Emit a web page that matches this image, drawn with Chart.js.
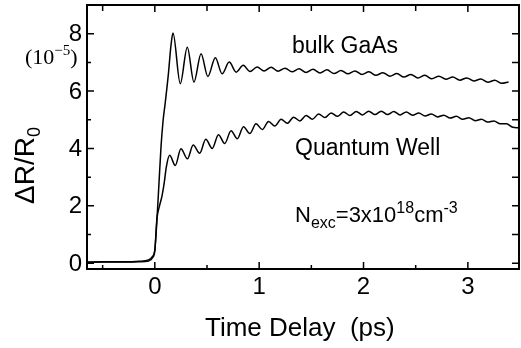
<!DOCTYPE html>
<html>
<head>
<meta charset="utf-8">
<script src="https://cdn.jsdelivr.net/npm/chart.js@4.4.1/dist/chart.umd.min.js"></script>
<style>
html,body{margin:0;padding:0;background:#fff;}
#c{display:block;}
</style>
</head>
<body>
<canvas id="c" width="521" height="348"></canvas>
<script>
// ---- data ----
const bulkT = [-0.65,-0.5,-0.3,-0.15,-0.06,-0.02,0.0,0.02,0.04,0.06,0.08,0.10,0.13,0.155,0.174,
  0.244,0.311,0.375,0.443,0.508,0.580,0.645,0.713,0.780,0.847,0.912,0.980,1.047,1.114,1.181,1.248,
  1.315,1.382,1.449,1.516,1.583,1.650,1.717,1.784,1.851,1.918,1.985,2.052,2.119,2.186,2.253,2.320,
  2.387,2.454,2.521,2.588,2.655,2.722,2.789,2.856,2.923,2.990,3.057,3.124,3.191,3.258,3.325,3.39];
const bulkV = [0.04,0.05,0.05,0.07,0.12,0.25,0.45,1.5,2.8,4.1,5.0,5.6,6.6,7.6,8.02,
  6.26,7.53,6.31,7.30,6.51,7.16,6.60,7.01,6.66,6.90,6.68,6.84,6.70,6.83,6.69,6.80,
  6.67,6.78,6.65,6.76,6.63,6.74,6.61,6.72,6.60,6.70,6.58,6.67,6.55,6.64,6.52,6.61,
  6.49,6.58,6.46,6.55,6.43,6.52,6.41,6.49,6.38,6.46,6.35,6.42,6.31,6.38,6.27,6.32];

const qwT = [-0.65,-0.5,-0.3,-0.15,-0.06,-0.02,0.0,0.02,0.045,0.069,0.09,0.11,0.142,
  0.196,0.25,0.312,0.368,0.43,0.488,0.55,0.61,0.67,0.73,0.79,0.85,0.91,0.97,1.03,1.09,1.15,1.21,
  1.27,1.33,1.39,1.45,1.51,1.57,1.63,1.69,1.75,1.81,1.87,1.93,1.99,2.05,2.11,2.17,2.23,2.29,2.35,
  2.41,2.47,2.53,2.59,2.65,2.71,2.77,2.83,2.89,2.95,3.01,3.07,3.13,3.19,3.25,3.31,3.37,3.43,3.49];
const qwV = [0.03,0.04,0.04,0.05,0.08,0.2,0.45,1.55,2.0,2.35,2.8,3.35,3.76,
  3.41,3.99,3.64,4.12,3.83,4.32,4.00,4.48,4.17,4.62,4.34,4.76,4.52,4.86,4.66,4.94,4.78,5.02,
  4.88,5.09,4.96,5.15,5.02,5.20,5.08,5.24,5.12,5.27,5.15,5.29,5.17,5.30,5.18,5.30,5.18,5.29,5.17,
  5.27,5.16,5.24,5.13,5.20,5.10,5.16,5.06,5.12,5.02,5.07,4.97,5.02,4.92,4.96,4.86,4.86,4.74,4.72];

const xMajorTicks = [0,1,2,3];
const xTickLabels = ['0','1','2','3'];
const xMinorTicks = [-0.5,0.5,1.5,2.5];
const yMajorTicks = [0,2,4,6,8];
const yTickLabels = ['0','2','4','6','8'];
const yMinorTicks = [1,3,5,7];

const SANS = '"Liberation Sans", Arial, Helvetica, sans-serif';
const SERIF = '"Liberation Serif", "Times New Roman", serif';

function drawRuns(ctx, x, y, runs){
  let cx = x;
  runs.forEach(r=>{
    ctx.font = r[1]+'px '+(r[3]||SANS);
    ctx.fillText(r[0], cx, y + r[2]);
    cx += ctx.measureText(r[0]).width;
  });
  return cx;
}

const deco = {
  id:'deco',
  afterDraw(chart){
    const {ctx, chartArea:a, scales:{x, y}} = chart;
    ctx.save();
    ctx.strokeStyle = '#000';
    ctx.fillStyle = '#000';
    ctx.lineWidth = 2;
    ctx.strokeRect(a.left, a.top, a.right - a.left, a.bottom - a.top);
    ctx.lineWidth = 1.5;
    ctx.beginPath();
    const xt = (v, lb, lt) => {
      const p = x.getPixelForValue(v);
      ctx.moveTo(p, a.bottom); ctx.lineTo(p, a.bottom - lb);
      ctx.moveTo(p, a.top); ctx.lineTo(p, a.top + lt);
    };
    xMajorTicks.forEach(v => xt(v, 7, 7));
    xMinorTicks.forEach(v => xt(v, 4, 6));
    const yt = (v, ll, lr) => {
      const p = y.getPixelForValue(v);
      ctx.moveTo(a.left, p); ctx.lineTo(a.left + ll, p);
      ctx.moveTo(a.right, p); ctx.lineTo(a.right - lr, p);
    };
    yMajorTicks.forEach(v => yt(v, 7, 7));
    yMinorTicks.forEach(v => yt(v, 4, 7));
    ctx.stroke();

    ctx.font = '24px ' + SANS;
    ctx.textAlign = 'center'; ctx.textBaseline = 'alphabetic';
    xMajorTicks.forEach((v, i) => ctx.fillText(xTickLabels[i], x.getPixelForValue(v), 294));
    ctx.textAlign = 'right'; ctx.textBaseline = 'middle';
    yMajorTicks.forEach((v, i) => ctx.fillText(yTickLabels[i], 82, y.getPixelForValue(v) + 1));

    ctx.textAlign = 'left'; ctx.textBaseline = 'alphabetic';
    ctx.font = '26px ' + SANS;
    ctx.fillText('Time Delay  (ps)', 205, 336);

    ctx.save();
    ctx.translate(34, 204);
    ctx.rotate(-Math.PI/2);
    drawRuns(ctx, 0, 0, [['\u0394R/R', 28, 0], ['0', 18, 6]]);
    ctx.restore();

    drawRuns(ctx, 25, 64, [['(10', 22, 0, SERIF], ['\u22125', 15, -9, SERIF], [')', 22, 0, SERIF]]);

    ctx.font = '23px ' + SANS;
    ctx.fillText('bulk GaAs', 292, 53);
    ctx.fillText('Quantum Well', 295, 155);
    drawRuns(ctx, 295, 222, [['N', 22, 0], ['exc', 16, 6], ['=3x10', 22, 0], ['18', 16, -9], ['cm', 22, 0], ['-3', 16, -9]]);
    ctx.restore();
  }
};

new Chart(document.getElementById('c'), {
  type: 'line',
  data: {
    datasets: [
      { label: 'bulk GaAs', data: bulkT.map((t, i) => ({x: t, y: bulkV[i]})),
        borderColor: '#000', backgroundColor: '#000', borderWidth: 1.5, pointRadius: 0, fill: false, cubicInterpolationMode: 'monotone' },
      { label: 'Quantum Well', data: qwT.map((t, i) => ({x: t, y: qwV[i]})),
        borderColor: '#000', backgroundColor: '#000', borderWidth: 1.5, pointRadius: 0, fill: false, cubicInterpolationMode: 'monotone' }
    ]
  },
  options: {
    responsive: false,
    animation: false,
    layout: { padding: { left: 87, top: 5, right: 2, bottom: 79 } },
    plugins: { legend: { display: false }, tooltip: { enabled: false }, colors: { enabled: false } },
    scales: {
      x: { type: 'linear', min: -0.65, max: 3.49, display: false },
      y: { type: 'linear', min: -0.2, max: 9, display: false }
    }
  },
  plugins: [deco]
});
</script>
</body>
</html>
